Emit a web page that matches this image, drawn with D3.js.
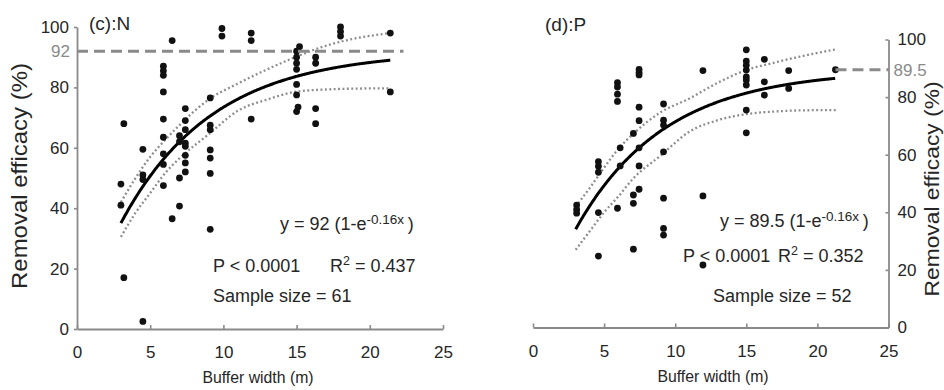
<!DOCTYPE html>
<html>
<head>
<meta charset="utf-8">
<script src="https://cdn.jsdelivr.net/npm/d3@7"></script>
<style>
  html, body { margin: 0; padding: 0; background: #fff; }
  svg { display: block; font-family: "Liberation Sans", Arial, sans-serif; }
</style>
</head>
<body>
<svg id="chart" width="944" height="390"></svg>
<script>
// ---------- shared axis ticks ----------
const xTicks = [0, 5, 10, 15, 20, 25];
const yTicks = [0, 20, 40, 60, 80, 100];

// ---------- (c): N ----------
const nWidth = [
  3.0, 3.0, 3.2, 3.2,
  4.5, 4.5, 4.5, 4.5,
  5.9, 5.9, 5.9, 5.9, 5.9, 5.9, 5.9, 5.9, 5.9,
  6.5, 6.5,
  7.0, 7.0, 7.0, 7.0,
  7.4, 7.4, 7.4, 7.4, 7.4, 7.4, 7.4, 7.4,
  9.1, 9.1, 9.1, 9.1, 9.1, 9.1, 9.1,
  9.9, 9.9,
  11.9, 11.9, 11.9,
  15.2, 15.0, 15.0, 15.0, 15.0, 15.0, 15.0, 15.1, 15.0,
  16.3, 16.3, 16.3, 16.3,
  18.0, 18.0, 18.0,
  21.4, 21.4
];
const nEfficacy = [
  48, 41, 68, 17,
  59.5, 51, 49.5, 2.5,
  87, 85.5, 84, 78.5, 69.5, 63.5, 58, 54.5, 47.5,
  95.5, 36.5,
  64, 62, 50, 40.7,
  73, 69, 66, 61.5, 60.5, 57.5, 55, 52,
  76.5, 67.5, 66, 59.3, 56.6, 51.5, 33,
  99.5, 97,
  98, 95.5, 69.5,
  93.5, 92, 90, 88, 86, 81, 77.5, 73.5, 72,
  90, 88, 73, 68,
  100, 98.5, 97,
  98, 78.5
];
const nBandWidth = [3, 4, 5, 6, 7, 9, 11, 13, 15, 17, 19, 21.4];
const nUpper     = [42, 50, 57, 62.5, 67.5, 76, 81.3, 86, 90.2, 93.8, 96.2, 98];
const nLower     = [30.5, 38.5, 45, 51.5, 56.5, 64.5, 72.3, 76, 78.6, 79.3, 79.6, 79.7];
const nFit = [92, 0.16];          // y = a (1 - e^(-b x))
const nFitRange = [3, 21.4];
const nDashRange = [0, 22.3];

// ---------- (d): P ----------
const pWidth = [
  3.07, 3.07, 3.07,
  4.6, 4.6, 4.6, 4.6, 4.6,
  5.94, 5.94, 5.94, 5.94, 5.94,
  6.13, 6.13,
  7.06, 7.06, 7.06, 7.06,
  7.46, 7.46, 7.46, 7.46, 7.46, 7.46, 7.46, 7.46,
  9.18, 9.18, 9.18, 9.18, 9.18, 9.18, 9.18,
  11.95, 11.95, 11.95,
  15.0, 15.0, 15.0, 15.0, 15.0, 15.0, 15.0, 15.0, 15.0,
  16.27, 16.27, 16.27,
  17.98, 17.98,
  21.27
];
const pEfficacy = [
  42.5, 41, 39.7,
  57.6, 56, 53.9, 39.9, 24.8,
  85, 83.5, 81, 78.5, 41.4,
  62.4, 56.1,
  67.4, 46, 43.1, 27.2,
  89.6, 88.5, 87.7, 76.5, 71.8, 62.4, 56.1, 48,
  77.6, 72, 70.3, 61, 44.9, 34.4, 32.1,
  89.2, 45.7, 21.7,
  96.4, 92.5, 91.1, 89.4, 87, 85.9, 84.2, 75.5, 67.6,
  93.1, 85.3, 80.7,
  89.2, 83,
  89.5
];
const pBandWidth = [3, 4, 5, 6, 7, 9, 11, 13, 15, 17, 19, 21.3];
const pUpper     = [42, 48.5, 55.5, 62, 67, 74.8, 79.5, 85, 89.4, 92, 94.3, 96.6];
const pLower     = [27, 33.5, 40, 45.5, 51.5, 59.8, 68, 72, 74.1, 75, 75.4, 75.5];
const pFit = [89.5, 0.16];
const pFitRange = [3, 21.27];
const pDashRange = [21.27, 25];

// ---------- drawing ----------
const svg = d3.select("#chart");
const AXIS_GREY = "#8a8a8a";
const BAND_GREY = "#8c8c8c";
const TEXT = "#262626";

function styleAxis(sel, size) {
  sel.select(".domain").attr("stroke", AXIS_GREY).attr("stroke-width", 1.8);
  sel.selectAll(".tick line").attr("stroke", AXIS_GREY).attr("stroke-width", 1.6);
  sel.selectAll(".tick text")
    .attr("fill", TEXT)
    .style("font-size", size + "px")
    .style("font-family", '"Liberation Sans", Arial, sans-serif');
}

// text with optional superscript parts: parts = [[text, isSup], ...]
function richText(parent, x, y, parts, size, supSize, supRise) {
  const t = parent.append("text")
    .attr("x", x).attr("y", y)
    .attr("fill", TEXT)
    .style("font-size", size + "px");
  let raised = false;
  parts.forEach(([s, sup]) => {
    const ts = t.append("tspan").text(s);
    if (sup && !raised) { ts.attr("dy", -supRise).style("font-size", supSize + "px"); raised = true; }
    else if (sup) { ts.style("font-size", supSize + "px"); }
    else if (!sup && raised) { ts.attr("dy", supRise); raised = false; }
  });
  return t;
}

function drawPanel(cfg) {
  const x = d3.scaleLinear().domain([0, 25]).range(cfg.xRange);
  const y = d3.scaleLinear().domain([0, 100]).range(cfg.yRange);
  const g = svg.append("g");

  // x axis, ticks pointing inward
  const xa = g.append("g")
    .attr("transform", `translate(0,${cfg.yRange[0]})`)
    .call(d3.axisBottom(x).tickValues(xTicks).tickSizeInner(-4).tickSizeOuter(0).tickPadding(17));
  styleAxis(xa, 17);

  // y axis
  let ya;
  if (cfg.side === "left") {
    ya = g.append("g")
      .attr("transform", `translate(${cfg.xRange[0]},0)`)
      .call(d3.axisLeft(y).tickValues(yTicks).tickSizeInner(3).tickSizeOuter(0).tickPadding(5));
  } else {
    ya = g.append("g")
      .attr("transform", `translate(${x(25)},0)`)
      .call(d3.axisRight(y).tickValues(yTicks).tickSizeInner(-3).tickSizeOuter(0).tickPadding(9));
  }
  styleAxis(ya, 17);

  // confidence band (dotted)
  const line = d3.line().x(d => x(d[0])).y(d => y(d[1])).curve(d3.curveMonotoneX);
  [cfg.upper, cfg.lower].forEach(vals => {
    g.append("path")
      .datum(cfg.bandX.map((v, i) => [v, vals[i]]))
      .attr("d", line)
      .attr("fill", "none")
      .attr("stroke", BAND_GREY)
      .attr("stroke-width", 2.3)
      .attr("stroke-dasharray", "1.9,2.5");
  });

  // fitted curve y = a(1 - e^(-bx))
  const [a, b] = cfg.fit;
  const fitPts = d3.range(cfg.fitRange[0], cfg.fitRange[1] + 1e-6, 0.05)
    .map(v => [v, a * (1 - Math.exp(-b * v))]);
  g.append("path")
    .datum(fitPts)
    .attr("d", d3.line().x(d => x(d[0])).y(d => y(d[1])))
    .attr("fill", "none")
    .attr("stroke", "#000")
    .attr("stroke-width", 3);

  // observations
  g.append("g").selectAll("circle")
    .data(cfg.width.map((w, i) => [w, cfg.eff[i]]))
    .join("circle")
    .attr("cx", d => x(d[0]))
    .attr("cy", d => y(d[1]))
    .attr("r", 3.4)
    .attr("fill", "#111");

  // asymptote
  g.append("line")
    .attr("x1", x(cfg.dash[0])).attr("x2", x(cfg.dash[1]))
    .attr("y1", y(a)).attr("y2", y(a))
    .attr("stroke", AXIS_GREY)
    .attr("stroke-width", 3)
    .attr("stroke-dasharray", "11,6");

  const asymLabel = g.append("text")
    .attr("y", y(a)).attr("dy", "0.35em")
    .attr("fill", "#8a8a8a")
    .style("font-size", "17px")
    .text(String(a));
  if (cfg.side === "left") asymLabel.attr("x", cfg.xRange[0] - 7).attr("text-anchor", "end");
  else asymLabel.attr("x", x(25) + 5).attr("text-anchor", "start");

  // x-axis title
  g.append("text")
    .attr("transform", `translate(${cfg.xTitle[0]},${cfg.xTitle[1]}) scale(0.93,1)`)
    .attr("text-anchor", "middle")
    .attr("fill", TEXT)
    .style("font-size", "17px")
    .text("Buffer width (m)");

  // y-axis title
  g.append("text")
    .attr("transform", `translate(${cfg.yTitle[0]},${cfg.yTitle[1]}) rotate(-90)`)
    .attr("text-anchor", "middle")
    .attr("fill", TEXT)
    .style("font-size", cfg.yTitle[3] + "px")
    .attr("textLength", cfg.yTitle[2])
    .attr("lengthAdjust", "spacingAndGlyphs")
    .text("Removal efficacy (%)");

  // panel tag
  g.append("text")
    .attr("x", cfg.tag[0]).attr("y", cfg.tag[1])
    .attr("fill", TEXT)
    .style("font-size", "19px")
    .text(cfg.tagText);

  // statistics
  const s = cfg.stats;
  richText(g, s.eq[0], s.eq[1], [[`y = ${a} (1-e`, false], [`-${b}x`, true], ["\u2009)", false]], 18, 13.5, 6.5);
  richText(g, s.p[0], s.p[1], [["P < 0.0001", false]], 18, 13, 7);
  richText(g, s.r[0], s.r[1], [["R", false], ["2", true], [` = ${cfg.r2}`, false]], 18, 12.5, 7.5);
  richText(g, s.n[0], s.n[1], [[`Sample size = ${cfg.width.length}`, false]], 18, 13, 7);
}

drawPanel({
  side: "left",
  xRange: [77, 443], yRange: [329, 27],
  width: nWidth, eff: nEfficacy,
  bandX: nBandWidth, upper: nUpper, lower: nLower,
  fit: nFit, fitRange: nFitRange, dash: nDashRange,
  r2: "0.437",
  xTitle: [258, 383], yTitle: [27, 176, 226, 22],
  tag: [89, 30], tagText: "(c):N",
  stats: { eq: [280, 230], p: [213, 272], r: [330, 272], n: [213, 302] }
});

drawPanel({
  side: "right",
  xRange: [533, 888.5], yRange: [327.5, 39.5],
  width: pWidth, eff: pEfficacy,
  bandX: pBandWidth, upper: pUpper, lower: pLower,
  fit: pFit, fitRange: pFitRange, dash: pDashRange,
  r2: "0.352",
  xTitle: [713, 382], yTitle: [939, 189, 215, 20],
  tag: [545, 31], tagText: "(d):P",
  stats: { eq: [720, 227], p: [683, 262], r: [778, 262], n: [713, 302] }
});
</script>
</body>
</html>
